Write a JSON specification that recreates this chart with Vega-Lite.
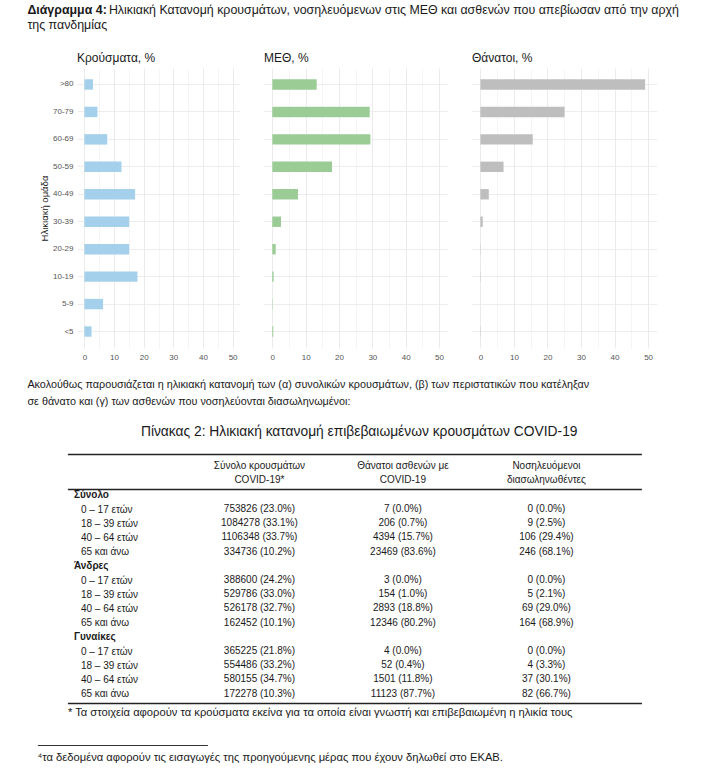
{
  "$schema": "https://vega.github.io/schema/vega-lite/v6.json",
  "background": "white",
  "padding": {"left": 27, "top": 0, "right": 0, "bottom": 0},
  "spacing": 0,
  "config": {
    "view": {"stroke": null},
    "font": "Liberation Sans",
    "title": {"fontWeight": "normal", "color": "#1a1a1a"},
    "axis": {"labelFont": "Liberation Sans", "titleFont": "Liberation Sans"}
  },
  "datasets": {
    "heading": [
      {"part": "label", "text": "Διάγραμμα 4:"},
      {"part": "line1", "text": "Ηλικιακή Κατανομή κρουσμάτων, νοσηλευόμενων στις ΜΕΘ και ασθενών που απεβίωσαν από την αρχή"},
      {"part": "line2", "text": "της πανδημίας"}
    ],
    "shares": [
      {"age": ">80", "measure": "cases", "pct": 2.9},
      {"age": "70-79", "measure": "cases", "pct": 4.4},
      {"age": "60-69", "measure": "cases", "pct": 7.7},
      {"age": "50-59", "measure": "cases", "pct": 12.5},
      {"age": "40-49", "measure": "cases", "pct": 17.1},
      {"age": "30-39", "measure": "cases", "pct": 15.1},
      {"age": "20-29", "measure": "cases", "pct": 15.1},
      {"age": "10-19", "measure": "cases", "pct": 17.9},
      {"age": "5-9", "measure": "cases", "pct": 6.3},
      {"age": "<5", "measure": "cases", "pct": 2.4},
      {"age": ">80", "measure": "icu", "pct": 13.3},
      {"age": "70-79", "measure": "icu", "pct": 29.2},
      {"age": "60-69", "measure": "icu", "pct": 29.4},
      {"age": "50-59", "measure": "icu", "pct": 17.9},
      {"age": "40-49", "measure": "icu", "pct": 7.7},
      {"age": "30-39", "measure": "icu", "pct": 2.6},
      {"age": "20-29", "measure": "icu", "pct": 1.0},
      {"age": "10-19", "measure": "icu", "pct": 0.4},
      {"age": "5-9", "measure": "icu", "pct": 0.1},
      {"age": "<5", "measure": "icu", "pct": 0.3},
      {"age": ">80", "measure": "deaths", "pct": 49.1},
      {"age": "70-79", "measure": "deaths", "pct": 25.1},
      {"age": "60-69", "measure": "deaths", "pct": 15.6},
      {"age": "50-59", "measure": "deaths", "pct": 6.9},
      {"age": "40-49", "measure": "deaths", "pct": 2.5},
      {"age": "30-39", "measure": "deaths", "pct": 0.7},
      {"age": "20-29", "measure": "deaths", "pct": 0.1},
      {"age": "10-19", "measure": "deaths", "pct": 0.1},
      {"age": "5-9", "measure": "deaths", "pct": 0.0},
      {"age": "<5", "measure": "deaths", "pct": 0.1}
    ],
    "paragraph": [
      {"text": ["Ακολούθως παρουσιάζεται η ηλικιακή κατανομή των (α) συνολικών κρουσμάτων, (β) των περιστατικών που κατέληξαν", "σε θάνατο και (γ) των ασθενών που νοσηλεύονται διασωληνωμένοι:"]}
    ],
    "tableHeader": [
      {"col": "cases", "line1": "Σύνολο κρουσμάτων", "line2": "COVID-19*"},
      {"col": "deaths", "line1": "Θάνατοι ασθενών με", "line2": "COVID-19"},
      {"col": "intub", "line1": "Νοσηλευόμενοι", "line2": "διασωληνωθέντες"}
    ],
    "tableRows": [
      {"row": "Σύνολο|0 – 17 ετών", "cases": "753826 (23.0%)", "deaths": "7 (0.0%)", "intub": "0 (0.0%)"},
      {"row": "Σύνολο|18 – 39 ετών", "cases": "1084278 (33.1%)", "deaths": "206 (0.7%)", "intub": "9 (2.5%)"},
      {"row": "Σύνολο|40 – 64 ετών", "cases": "1106348 (33.7%)", "deaths": "4394 (15.7%)", "intub": "106 (29.4%)"},
      {"row": "Σύνολο|65 και άνω", "cases": "334736 (10.2%)", "deaths": "23469 (83.6%)", "intub": "246 (68.1%)"},
      {"row": "Άνδρες|0 – 17 ετών", "cases": "388600 (24.2%)", "deaths": "3 (0.0%)", "intub": "0 (0.0%)"},
      {"row": "Άνδρες|18 – 39 ετών", "cases": "529786 (33.0%)", "deaths": "154 (1.0%)", "intub": "5 (2.1%)"},
      {"row": "Άνδρες|40 – 64 ετών", "cases": "526178 (32.7%)", "deaths": "2893 (18.8%)", "intub": "69 (29.0%)"},
      {"row": "Άνδρες|65 και άνω", "cases": "162452 (10.1%)", "deaths": "12346 (80.2%)", "intub": "164 (68.9%)"},
      {"row": "Γυναίκες|0 – 17 ετών", "cases": "365225 (21.8%)", "deaths": "4 (0.0%)", "intub": "0 (0.0%)"},
      {"row": "Γυναίκες|18 – 39 ετών", "cases": "554486 (33.2%)", "deaths": "52 (0.4%)", "intub": "4 (3.3%)"},
      {"row": "Γυναίκες|40 – 64 ετών", "cases": "580155 (34.7%)", "deaths": "1501 (11.8%)", "intub": "37 (30.1%)"},
      {"row": "Γυναίκες|65 και άνω", "cases": "172278 (10.3%)", "deaths": "11123 (87.7%)", "intub": "82 (66.7%)"}
    ],
    "notes": [{"note": "⁴τα δεδομένα αφορούν τις εισαγωγές της προηγούμενης μέρας που έχουν δηλωθεί στο ΕΚΑΒ."}]
  },
  "vconcat": [
    {
      "width": 600,
      "height": 52,
      "data": {"name": "heading"},
      "layer": [
        {
          "transform": [{"filter": "datum.part === 'label'"}],
          "mark": {"type": "text", "align": "left", "baseline": "middle", "fontSize": 12.4, "fontWeight": "bold", "dx": -349.6, "dy": -16, "color": "#1a1a1a"},
          "encoding": {"text": {"field": "text"}}
        },
        {
          "transform": [{"filter": "datum.part === 'line1'"}],
          "mark": {"type": "text", "align": "left", "baseline": "middle", "fontSize": 12.4, "dx": -268.1, "dy": -16, "color": "#1a1a1a"},
          "encoding": {"text": {"field": "text"}}
        },
        {
          "transform": [{"filter": "datum.part === 'line2'"}],
          "mark": {"type": "text", "align": "left", "baseline": "middle", "fontSize": 12.4, "dx": -349.6, "dy": -1.5, "color": "#1a1a1a"},
          "encoding": {"text": {"field": "text"}}
        }
      ]
    },
    {
      "spacing": 24,
      "hconcat": [
        {
          "width": 163,
          "height": 280,
          "title": {"text": "Κρούσματα, %", "anchor": "start", "frame": "group", "fontSize": 12, "offset": 3},
          "data": {"name": "shares"},
          "transform": [{"filter": "datum.measure === 'cases'"}],
          "mark": {"type": "bar", "color": "#a5d0eb"},
          "encoding": {
            "y": {
              "field": "age", "type": "nominal",
              "sort": [">80", "70-79", "60-69", "50-59", "40-49", "30-39", "20-29", "10-19", "5-9", "<5"],
              "scale": {"paddingInner": 0.62, "paddingOuter": 0.41},
              "axis": {"title": "Ηλικιακή ομάδα", "titleFontSize": 9.5, "titleFontWeight": "normal", "titleColor": "#1a1a1a", "titlePadding": 3, "labelFontSize": 8, "labelColor": "#555", "labelPadding": 4, "ticks": false, "domain": false, "grid": true, "gridColor": "#e8e8e8", "gridWidth": 0.8, "bandPosition": 0.5}
            },
            "x": {
              "field": "pct", "type": "quantitative",
              "scale": {"domain": [-2.5, 52.5], "nice": false},
              "axis": {"title": null, "values": [0, 5, 10, 15, 20, 25, 30, 35, 40, 45, 50], "labelExpr": "datum.value % 10 === 0 ? datum.label : ''", "labelOverlap": false, "labelFontSize": 8, "labelColor": "#555", "labelPadding": 5, "ticks": false, "domain": false, "grid": true, "gridColor": {"condition": {"test": "datum.value % 10 !== 0", "value": "#f2f2f2"}, "value": "#e6e6e6"}, "gridWidth": 0.8}
            }
          }
        },
        {
          "width": 183.4,
          "height": 280,
          "title": {"text": "ΜΕΘ, %", "anchor": "start", "frame": "group", "fontSize": 12, "offset": 3},
          "data": {"name": "shares"},
          "transform": [{"filter": "datum.measure === 'icu'"}],
          "mark": {"type": "bar", "color": "#9bcc96"},
          "encoding": {
            "y": {
              "field": "age", "type": "nominal",
              "sort": [">80", "70-79", "60-69", "50-59", "40-49", "30-39", "20-29", "10-19", "5-9", "<5"],
              "scale": {"paddingInner": 0.62, "paddingOuter": 0.41},
              "axis": {"title": null, "labels": false, "ticks": false, "domain": false, "grid": true, "gridColor": "#e8e8e8", "gridWidth": 0.8, "bandPosition": 0.5}
            },
            "x": {
              "field": "pct", "type": "quantitative",
              "scale": {"domain": [-2.5, 52.5], "nice": false},
              "axis": {"title": null, "values": [0, 5, 10, 15, 20, 25, 30, 35, 40, 45, 50], "labelExpr": "datum.value % 10 === 0 ? datum.label : ''", "labelOverlap": false, "labelFontSize": 8, "labelColor": "#555", "labelPadding": 5, "ticks": false, "domain": false, "grid": true, "gridColor": {"condition": {"test": "datum.value % 10 !== 0", "value": "#f2f2f2"}, "value": "#e6e6e6"}, "gridWidth": 0.8}
            }
          }
        },
        {
          "width": 184.5,
          "height": 280,
          "title": {"text": "Θάνατοι, %", "anchor": "start", "frame": "group", "fontSize": 12, "offset": 3},
          "data": {"name": "shares"},
          "transform": [{"filter": "datum.measure === 'deaths'"}],
          "mark": {"type": "bar", "color": "#bebebe"},
          "encoding": {
            "y": {
              "field": "age", "type": "nominal",
              "sort": [">80", "70-79", "60-69", "50-59", "40-49", "30-39", "20-29", "10-19", "5-9", "<5"],
              "scale": {"paddingInner": 0.62, "paddingOuter": 0.41},
              "axis": {"title": null, "labels": false, "ticks": false, "domain": false, "grid": true, "gridColor": "#e8e8e8", "gridWidth": 0.8, "bandPosition": 0.5}
            },
            "x": {
              "field": "pct", "type": "quantitative",
              "scale": {"domain": [-2.5, 52.5], "nice": false},
              "axis": {"title": null, "values": [0, 5, 10, 15, 20, 25, 30, 35, 40, 45, 50], "labelExpr": "datum.value % 10 === 0 ? datum.label : ''", "labelOverlap": false, "labelFontSize": 8, "labelColor": "#555", "labelPadding": 5, "ticks": false, "domain": false, "grid": true, "gridColor": {"condition": {"test": "datum.value % 10 !== 0", "value": "#f2f2f2"}, "value": "#e6e6e6"}, "gridWidth": 0.8}
            }
          }
        }
      ]
    },
    {
      "width": 600,
      "height": 64,
      "data": {"name": "paragraph"},
      "mark": {"type": "text", "align": "left", "baseline": "middle", "fontSize": 10.8, "lineHeight": 17, "dx": -349.6, "dy": -8, "color": "#1a1a1a"},
      "encoding": {
        "text": {"field": "text"}
      }
    },
    {
      "width": 564.4,
      "height": 35,
      "title": {"text": "Πίνακας 2: Ηλικιακή κατανομή επιβεβαιωμένων κρουσμάτων COVID-19", "fontSize": 13.8, "anchor": "middle", "frame": "group", "offset": 15},
      "data": {"name": "tableHeader"},
      "transform": [{"fold": ["line1", "line2"], "as": ["line", "text"]}],
      "resolve": {"axis": {"x": "independent"}},
      "layer": [
        {
          "transform": [{"filter": "datum.line === 'line1'"}],
          "mark": {"type": "text", "fontSize": 10, "color": "#1a1a1a", "baseline": "middle"},
          "encoding": {
            "x": {"field": "col", "type": "nominal", "scale": {"type": "point", "domain": ["cases", "deaths", "intub"], "range": [-9.6, 564.4], "padding": 1.0355, "align": 0.669},
                  "axis": {"orient": "top", "labels": false, "ticks": false, "title": null, "domain": true, "domainColor": "#222", "domainWidth": 1.5}},
            "y": {"field": "line", "type": "nominal", "scale": {"type": "point", "domain": ["line1", "line2"], "padding": 0.75, "align": 0.571}, "axis": null},
            "text": {"field": "text"}
          }
        },
        {
          "transform": [{"filter": "datum.line === 'line2'"}],
          "mark": {"type": "text", "fontSize": 10, "color": "#1a1a1a", "baseline": "middle"},
          "encoding": {
            "x": {"field": "col", "type": "nominal", "scale": {"type": "point", "domain": ["cases", "deaths", "intub"], "range": [-9.6, 564.4], "padding": 1.0355, "align": 0.669},
                  "axis": {"orient": "bottom", "labels": false, "ticks": false, "title": null, "domain": true, "domainColor": "#222", "domainWidth": 1.5}},
            "y": {"field": "line", "type": "nominal", "scale": {"type": "point", "domain": ["line1", "line2"], "padding": 0.75, "align": 0.571}, "axis": null},
            "text": {"field": "text"}
          }
        }
      ]
    },
    {
      "width": 564.4,
      "height": 213,
      "data": {"name": "tableRows"},
      "transform": [{"fold": ["cases", "deaths", "intub"], "as": ["col", "text"]}],
      "mark": {"type": "text", "fontSize": 10, "color": "#1a1a1a", "baseline": "middle"},
      "encoding": {
        "x": {"field": "col", "type": "nominal", "scale": {"type": "point", "domain": ["cases", "deaths", "intub"], "range": [-9.6, 564.4], "padding": 1.0355, "align": 0.669},
              "axis": {"orient": "bottom", "labels": false, "ticks": false, "domain": true, "domainColor": "#222", "domainWidth": 1.5,
                       "title": "\u00a0\u00a0* Τα στοιχεία αφορούν τα κρούσματα εκείνα για τα οποία είναι γνωστή και επιβεβαιωμένη η ηλικία τους",
                       "titleAnchor": "start", "titleFontSize": 11.2, "titleFontWeight": "normal", "titleColor": "#1a1a1a", "titlePadding": 3}},
        "y": {"field": "row", "type": "nominal",
              "scale": {"domain": ["Σύνολο", "Σύνολο|0 – 17 ετών", "Σύνολο|18 – 39 ετών", "Σύνολο|40 – 64 ετών", "Σύνολο|65 και άνω", "Άνδρες", "Άνδρες|0 – 17 ετών", "Άνδρες|18 – 39 ετών", "Άνδρες|40 – 64 ετών", "Άνδρες|65 και άνω", "Γυναίκες", "Γυναίκες|0 – 17 ετών", "Γυναίκες|18 – 39 ετών", "Γυναίκες|40 – 64 ετών", "Γυναίκες|65 και άνω"], "paddingInner": 0, "paddingOuter": 0.223, "align": 0.34},
              "axis": {"title": null, "domain": false, "ticks": false, "tickSize": 0, "grid": false, "labelAlign": "left", "labelBaseline": "middle", "labelFontSize": 10, "labelColor": "#1a1a1a", "labelOverlap": false,
                       "labelExpr": "indexof(datum.value, '|') > 0 ? split(datum.value, '|')[1] : datum.value",
                       "labelPadding": {"condition": {"test": "indexof(datum.value, '|') > 0", "value": -3.4}, "value": 3.6},
                       "labelFontWeight": {"condition": {"test": "indexof(datum.value, '|') < 0", "value": "bold"}, "value": "normal"}}},
        "text": {"field": "text"}
      }
    },
    {
      "width": 130.4,
      "height": 27,
      "data": {"name": "notes"},
      "mark": {"type": "text", "align": "left", "baseline": "middle", "fontSize": 11.2, "dx": -85, "dy": 26.5, "color": "#1a1a1a"},
      "encoding": {
        "x": {"field": "note", "type": "nominal", "scale": {"type": "point", "range": [-39.6, 130.4]},
              "axis": {"orient": "bottom", "labels": false, "ticks": false, "title": null, "domain": true, "domainColor": "#333", "domainWidth": 1}},
        "text": {"field": "note"}
      }
    }
  ]
}
